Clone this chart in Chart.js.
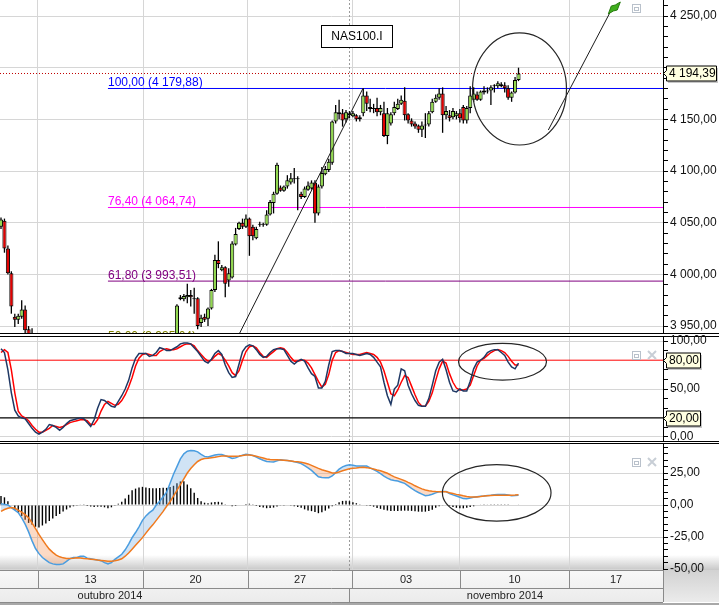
<!DOCTYPE html>
<html>
<head>
<meta charset="utf-8">
<script src="https://cdn.jsdelivr.net/npm/chart.js@4.4.1/dist/chart.umd.min.js"></script>
<style>
  html, body { margin: 0; padding: 0; background: #fff; }
  #wrap { position: relative; width: 719px; height: 605px; overflow: hidden; background: #fff; }
  #wrap canvas { position: absolute; left: 0; }
  .sep { position: absolute; left: 0; width: 719px; height: 1px; background: #000; }
</style>
</head>
<body>
<div id="wrap">
  <div class="sep" style="top:333px"></div>
  <div class="sep" style="top:336px"></div>
  <div class="sep" style="top:441px"></div>
  <div class="sep" style="top:443px"></div>
  <div style="position:absolute;left:663px;top:570px;width:56px;height:32px;background:linear-gradient(#d2d2d2,#ebebeb)"></div>
  <div style="position:absolute;left:0;top:603px;width:719px;height:2px;background:#a8a8a8"></div>
  <canvas id="priceChart" width="719" height="345" style="top:0"></canvas>
  <canvas id="stochChart" width="719" height="120" style="top:330px"></canvas>
  <canvas id="macdChart" width="719" height="169" style="top:436px"></canvas>
</div>
<script>
// NAS100.I, 4 hour bars. x = bar number, 0 = first bar on screen

const opens = [
  4046, 4052, 4025, 4001, 3959, 3956, 3959, 3966, 3947, 3930,
  3915, 3892, 3868, 3876, 3864, 3880, 3856, 3840, 3818, 3830,
  3814, 3792, 3802, 3796, 3810, 3786, 3764, 3750, 3786, 3815,
  3828, 3772, 3760, 3792, 3805, 3830, 3852, 3868, 3885, 3900,
  3910, 3912, 3915, 3920, 3910, 3918, 3926, 3930, 3928, 3932,
  3935, 3932, 3978, 3976, 3978, 3980, 3976, 3977, 3953, 3959,
  3957, 3967, 3985, 4014, 4004, 4007, 3994, 3997, 4029, 4044,
  4050, 4046, 4054, 4046, 4035, 4048, 4049, 4048, 4058, 4069,
  4078, 4084, 4081, 4085, 4089, 4092, 4093, 4078, 4075, 4082,
  4083, 4089, 4059, 4085, 4097, 4101, 4108, 4148, 4155, 4156,
  4150, 4156, 4153, 4154, 4150, 4156, 4173, 4162, 4160, 4161,
  4157, 4156, 4134, 4146, 4156, 4160, 4165, 4168, 4155, 4149,
  4146, 4144, 4140, 4144, 4145, 4157, 4167, 4171, 4175, 4154,
  4154, 4152, 4153, 4156, 4162, 4149, 4161, 4169, 4174, 4169,
  4176, 4177, 4178, 4182, 4182, 4182, 4183, 4180, 4171, 4176,
  4188
];
const highs = [
  4055, 4054, 4028, 4003, 3962, 3962, 3975, 3970, 3950, 3948,
  3920, 3898, 3882, 3884, 3888, 3884, 3866, 3846, 3836, 3840,
  3822, 3808, 3812, 3815, 3816, 3794, 3772, 3790, 3822, 3836,
  3832, 3790, 3798, 3810, 3836, 3858, 3872, 3890, 3905, 3915,
  3918, 3922, 3925, 3924, 3922, 3930, 3934, 3936, 3934, 3940,
  3941, 3971, 3980, 3981, 3991, 3985, 3987, 3978, 3961, 3962,
  3968, 3986, 4019, 4032, 4009, 4008, 4006, 4032, 4045, 4051,
  4054, 4058, 4055, 4048, 4046, 4051, 4050, 4062, 4072, 4080,
  4108, 4086, 4086, 4096, 4098, 4103, 4095, 4080, 4085, 4090,
  4091, 4091, 4087, 4104, 4105, 4112, 4149, 4164, 4169, 4160,
  4159, 4158, 4158, 4155, 4154, 4180, 4177, 4170, 4165, 4171,
  4164, 4167, 4161, 4157, 4167, 4170, 4173, 4181, 4156, 4151,
  4148, 4145, 4148, 4156, 4158, 4170, 4174, 4180, 4181, 4163,
  4159, 4161, 4158, 4160, 4164, 4163, 4182, 4181, 4177, 4178,
  4182, 4181, 4183, 4184, 4187, 4186, 4186, 4183, 4177, 4191,
  4200
];
const lows = [
  4044, 4021, 4000, 3962, 3949, 3952, 3957, 3935, 3920, 3905,
  3885, 3862, 3860, 3858, 3860, 3850, 3832, 3812, 3810, 3808,
  3786, 3784, 3790, 3792, 3780, 3758, 3742, 3746, 3780, 3806,
  3760, 3690, 3735, 3770, 3800, 3826, 3845, 3860, 3880, 3895,
  3900, 3905, 3908, 3905, 3906, 3914, 3920, 3922, 3920, 3925,
  3928, 3928, 3975, 3974, 3972, 3969, 3962, 3947, 3949, 3954,
  3950, 3966, 3983, 4006, 4003, 3978, 3988, 3996, 4028, 4043,
  4044, 4045, 4018, 4033, 4034, 4046, 4046, 4047, 4057, 4059,
  4077, 4080, 4080, 4083, 4087, 4088, 4062, 4073, 4074, 4081,
  4082, 4050, 4057, 4083, 4096, 4099, 4106, 4146, 4150, 4143,
  4147, 4151, 4152, 4148, 4148, 4153, 4158, 4157, 4156, 4153,
  4154, 4133, 4126, 4144, 4154, 4159, 4164, 4149, 4146, 4143,
  4141, 4137, 4133, 4132, 4143, 4156, 4166, 4169, 4137, 4150,
  4148, 4150, 4150, 4147, 4146, 4146, 4156, 4167, 4168, 4168,
  4174, 4175, 4164, 4176, 4180, 4181, 4176, 4169, 4167, 4175,
  4187
];
const closes = [
  4053, 4025, 4001, 3969, 3956, 3960, 3966, 3946, 3930, 3915,
  3892, 3868, 3876, 3864, 3880, 3856, 3840, 3818, 3830, 3814,
  3792, 3802, 3796, 3810, 3786, 3764, 3750, 3786, 3815, 3828,
  3772, 3760, 3792, 3805, 3830, 3852, 3868, 3885, 3900, 3910,
  3912, 3915, 3920, 3910, 3918, 3926, 3930, 3928, 3932, 3935,
  3932, 3970, 3976, 3979, 3980, 3978, 3977, 3950, 3958, 3956,
  3967, 3985, 4014, 4010, 4007, 3991, 4001, 4030, 4039, 4050,
  4046, 4054, 4037, 4037, 4044, 4049, 4048, 4058, 4070, 4078,
  4106, 4081, 4085, 4091, 4093, 4093, 4092, 4075, 4083, 4086,
  4089, 4059, 4085, 4098, 4102, 4109, 4148, 4157, 4157, 4149,
  4157, 4154, 4156, 4150, 4152, 4173, 4165, 4160, 4161, 4157,
  4161, 4134, 4156, 4155, 4162, 4165, 4169, 4154, 4149, 4145,
  4143, 4140, 4144, 4145, 4156, 4167, 4171, 4175, 4154, 4158,
  4151, 4158, 4156, 4151, 4149, 4161, 4173, 4175, 4169, 4177,
  4178, 4178, 4181, 4183, 4185, 4184, 4180, 4171, 4176, 4188,
  4194.39
];

// stochastic %K / %D
const stochK = [
  92, 88, 70, 46, 28, 22, 20, 19, 14, 9,
  5, 3, 5, 8, 13, 12, 10, 7, 10, 14,
  17, 18, 19, 20, 19, 15, 11, 18, 30, 39,
  38, 35, 32, 31, 37, 43, 50, 59, 72, 82,
  87, 87, 87, 84, 85, 88, 93, 92, 90, 90,
  92, 94, 97, 98, 98, 97, 93, 89, 84, 79,
  77, 81, 87, 90, 86, 75, 67, 62, 63, 76,
  89, 94, 96, 95, 91, 86, 83, 84, 88, 91,
  92, 92, 91, 85, 79, 76, 79, 81, 79, 72,
  66, 63, 51, 51, 58, 75, 89, 90, 90, 89,
  87, 87, 87, 86, 85, 86, 87, 86, 83, 78,
  73, 57, 43, 34, 50, 54, 71, 69, 54, 45,
  38, 33, 32, 32, 40, 54, 69, 78, 81, 70,
  57, 48, 47, 50, 48, 48, 58, 71, 78, 80,
  83, 88, 90, 91, 91, 88, 85, 78, 73, 71,
  77
];
const stochD = [
  88, 91, 88, 70, 46, 27, 22, 20, 17, 12,
  8, 5, 5, 7, 9, 12, 11, 10, 11, 13,
  15, 16, 17, 18, 18, 17, 13, 13, 18, 27,
  34, 37, 35, 33, 34, 38, 44, 52, 62, 74,
  82, 86, 87, 86, 85, 85, 89, 91, 92, 91,
  91, 92, 94, 96, 97, 97, 95, 90, 86, 82,
  79, 80, 84, 87, 85, 80, 74, 67, 64, 69,
  80, 89, 94, 95, 93, 88, 84, 83, 86, 89,
  92, 93, 92, 88, 83, 79, 79, 80, 80, 77,
  72, 65, 58, 52, 55, 65, 80, 88, 90, 89,
  88, 87, 86, 86, 86, 87, 88, 87, 86, 83,
  78, 69, 57, 45, 43, 49, 57, 64, 62, 53,
  44, 36, 32, 32, 37, 46, 59, 71, 79, 77,
  66, 57, 51, 49, 49, 50, 54, 64, 74, 80,
  82, 85, 88, 90, 91, 90, 88, 84, 79, 75,
  75
];

// MACD, signal and histogram
const macdLine = [
  1, 0.5, 0, -2, -4, -6, -10, -15, -21, -28,
  -34, -38, -41, -43, -45, -46, -46.5, -46.5, -46, -44,
  -42, -41, -41, -40, -40, -41.5, -42, -42.5, -43, -43.5,
  -45, -46, -45, -42.5, -40.5, -38.5, -35, -30.5, -25.5, -21.5,
  -17, -12, -8.5, -6, -4, 0, 3, 6.5, 10, 17,
  24, 30, 36, 40, 42, 42.6, 42.3, 41.5, 39.5, 38,
  37.5, 38.3, 39, 39.5, 39.4, 38.5, 37.5, 36.3, 36.8, 38,
  38.8, 39.6, 39.3, 38.7, 37.5, 36.1, 35, 34, 33.7, 33.6,
  34.5, 35.3, 35, 34.7, 34.3, 33.8, 33.2, 32.3, 30.7, 29,
  27, 24.5, 22, 21.5, 21.3, 21.3, 22.7, 25.3, 28, 29.8,
  30.8, 31.4, 31, 30.5, 30.4, 30.4, 30.4, 29, 27.7, 26.3,
  24.5, 22.6, 21, 19.7, 19.1, 18.7, 17.8, 16.9, 15, 13,
  11.3, 9.8, 8.5, 7.2, 7.7, 8.4, 9.5, 10.4, 10.6, 10.5,
  9, 7.9, 7, 6, 5, 4.8, 5.4, 6, 6.5, 6.9,
  7.1, 7.4, 7.6, 8, 8.3, 8.3, 8.3, 7.8, 7.2, 7.4,
  7.7
];
const signalLine = [
  -5, -3.5, -2.6, -2, -2.5, -4, -5.5, -7.5, -10, -14,
  -18.5, -23, -27, -31, -34.5, -37, -39.2, -40.5, -41.3, -41.7,
  -41.8, -41.6, -41.3, -41.5, -41.8, -42, -42.3, -42.6, -43, -43.3,
  -43.6, -43.9, -43.9, -43.6, -43, -42, -40, -37.5, -34.5, -31.5,
  -28.5, -25.5, -22, -18.5, -15.5, -12, -8.5, -5, -1, 2.5,
  7, 11.5, 16, 20.5, 25, 28.5, 31.5, 34, 35.5, 36.3,
  36.6, 37, 37.3, 37.8, 38.2, 38.2, 38.1, 38, 38, 38.2,
  38.6, 39.1, 39, 38.7, 38.1, 37.4, 36.7, 36, 35.6, 35.3,
  35.3, 35.2, 35, 34.8, 34.4, 34, 33.7, 33.4, 32.8, 32.1,
  31, 29.8, 28.6, 27.6, 26.8, 26, 25, 25, 25.8, 26.7,
  27.5, 28.3, 28.8, 29, 29.3, 29.4, 29.2, 28.8, 28.2, 27.4,
  26.7, 25.8, 24.8, 23.3, 22, 21, 20, 19, 17.7, 16.5,
  15, 13.8, 12.6, 11.7, 11.2, 10.8, 10.5, 10.3, 10.3, 10.3,
  9.6, 9, 8.3, 7.8, 7.2, 6.7, 6.3, 6.2, 6.3, 6.6,
  7, 7.3, 7.5, 7.6, 7.7, 7.7, 7.7, 7.7, 7.7, 7.8,
  8
];
const macdHist = [
  7, 6, 3, 0, -4, -6, -8.5, -11.5, -14, -15.5,
  -17, -17.5, -16, -14.5, -12.5, -10.5, -8.5, -7, -5, -3.5,
  -2, -1, -0.5, 0.3, 0.5, -0.8, -1.2, -1.5, -1.3, -1.4,
  -1.8, -2.5, -1.8, -0.5, 1, 2.6, 5, 8, 11.6, 12.8,
  13.6, 14.2, 13.6, 13.2, 13, 13, 13.2, 13.4, 13.4, 14,
  15, 17, 18.4, 18.6, 16, 13, 9.5, 5.5, 3, 1.8,
  1.3, 2, 2.4, 2.5, 2, 0.6, -0.3, -1, -0.8, -0.3,
  0.4, 0.8, 1, 0.6, -0.8, -1.6, -2, -2.5, -2.4, -2,
  -1.2, -0.5, -0.2, 0, -0.5, -1, -1.6, -2.2, -3.4, -4.3,
  -4.8, -5.4, -6.4, -5.6, -4.4, -2.8, -1, 0.8, 2.2, 3.2,
  3.3, 3, 2.1, 1.4, 0.6, 0, -0.5, -0.8, -1.3, -2.3,
  -3, -3.8, -4.3, -4.6, -4.6, -4.6, -4.5, -4.4, -4.5, -4.6,
  -4.9, -5.2, -5.2, -5.2, -4.6, -3.8, -2.2, -1, -0.3, 0,
  -0.8, -1.5, -2.2, -2.6, -2.6, -2.2, -1.5, -1, -0.3, 0.3,
  0.5, 0.5, 0.6, 0.6, 0.5, 0.5, 0.6, 0.5, 0.4, 0.4,
  0.3
];

// time axis (in bar numbers)
const weekTicks = [10.72, 41.16, 71.59, 101.74, 133.04, 164.64];
const weekLabels = ['13', '20', '27', '03', '10', '17'];
const monthBreak = 101.01;
const monthCenters = [31.59, 146.09];
const monthLabels = ['outubro 2014', 'novembro 2014'];

// drawings on the price panel
const symbol = 'NAS100.I';
const symbolAt = [103.19, 4230.7];
const lastPrice = 4194.39;
const fibStart = 31;
const fibLevels = [4179.88, 4064.74, 3993.51, 3935.04];
const fibNames = ['100,00', '76,40', '61,80', '50,00'];
const fibColors = ['#0000ff', '#ff00ff', '#800080', '#808000'];
const trendLine = [[31, 3690.2], [104.9, 4179.88]];
const arrowLine = [[158.64, 4139.7], [176.6, 4253.9]];
const priceCircle = { x: 150.29, y: 4179.4, rx: 13.62, ry: 54.2 };
const stochCircle = { x: 145.36, y: 78.4, rx: 12.75, ry: 19.1 };
const macdCircle = { x: 143.68, y: 9.5, rx: 15.74, ry: 22.1 };
const stochLevels = [80, 20];

// visible ranges
const X_MIN = -0.29, X_MAX = 191.88;
const PRICE_MIN = 3943.3, PRICE_MAX = 4265.5;
const STOCH_MIN = -4.17, STOCH_MAX = 104.17;
const MACD_MIN = -50.78, MACD_MAX = 47.66;

const FONT = '"Liberation Sans", Arial, sans-serif';
const BULL = '#92d850';
const BEAR = '#e20000';
const GRID = '#d6d6d6';

Chart.defaults.font.family = FONT;
Chart.defaults.font.size = 12;
Chart.defaults.color = '#000';

const bars = opens.map((_, i) => i);
const toPts = arr => arr.map(p => ({ x: p[0], y: p[1] }));
const hLine = v => [{ x: X_MIN, y: v }, { x: X_MAX, y: v }];
const vLine = (v, lo, hi) => [{ x: v, y: lo }, { x: v, y: hi }];

function fmt(v) {
  const parts = Math.abs(v).toFixed(2).split('.');
  const whole = parts[0].replace(/\B(?=(\d{3})+(?!\d))/g, ' ');
  return (v < 0 ? '-' : '') + whole + ',' + parts[1];
}

function xAxis(bottomSpace) {
  return {
    type: 'linear', min: X_MIN, max: X_MAX, offset: false,
    ticks: { display: false },
    grid: { color: GRID, drawTicks: false, offset: false },
    border: { display: false },
    afterBuildTicks: s => { s.ticks = weekTicks.map(v => ({ value: v })); },
    afterFit: s => { s.height = bottomSpace; s.paddingLeft = 0; s.paddingRight = 0; }
  };
}

function yAxis(min, max, step, major, labelled) {
  return {
    type: 'linear', position: 'right', min, max,
    afterBuildTicks: s => {
      const t = [];
      for (let v = Math.ceil(min / step) * step; v <= max; v += step) t.push({ value: Math.round(v * 100) / 100 });
      s.ticks = t;
    },
    ticks: { autoSkip: false, padding: 2, color: '#111', font: { size: 12 }, callback: v => labelled(v) ? fmt(v) : '' },
    grid: { color: c => major(c.tick.value) ? GRID : 'rgba(0,0,0,0)', tickColor: '#000', tickLength: 5 },
    border: { display: true, color: '#000' },
    afterFit: s => { s.width = 56; s.paddingTop = 0; s.paddingBottom = 0; }
  };
}

function baseOptions(padding) {
  return {
    responsive: false, animation: false, devicePixelRatio: 1, events: [],
    layout: { padding },
    plugins: { legend: { display: false }, tooltip: { enabled: false } },
    elements: { point: { radius: 0 }, line: { tension: 0 } }
  };
}

function drawEllipse(ctx, xs, ys, e) {
  const cx = xs.getPixelForValue(e.x), cy = ys.getPixelForValue(e.y);
  const rx = Math.abs(xs.getPixelForValue(e.x + e.rx) - cx);
  const ry = Math.abs(ys.getPixelForValue(e.y + e.ry) - cy);
  ctx.beginPath();
  ctx.ellipse(cx, cy, rx, ry, 0, 0, Math.PI * 2);
  ctx.strokeStyle = '#262626';
  ctx.lineWidth = 1.2;
  ctx.stroke();
}

// little window buttons in the panel corners
function drawButtons(ctx, x0, y0, withClose) {
  ctx.save();
  ctx.strokeStyle = '#b9c1cb';
  ctx.lineWidth = 1;
  ctx.strokeRect(x0 + 0.5, y0 + 0.5, 8, 8);
  ctx.strokeRect(x0 + 2.5, y0 + 3.5, 4, 3);
  if (withClose) {
    ctx.lineWidth = 2;
    ctx.strokeStyle = '#c8ced6';
    ctx.beginPath();
    ctx.moveTo(x0 + 16, y0); ctx.lineTo(x0 + 24, y0 + 8);
    ctx.moveTo(x0 + 24, y0); ctx.lineTo(x0 + 16, y0 + 8);
    ctx.stroke();
  }
  ctx.restore();
}

// yellow value tag on the right axis
function drawTag(ctx, left, value, ys, w, text) {
  const py = Math.round(ys.getPixelForValue(value)) + 0.5;
  ctx.save();
  ctx.fillStyle = 'rgba(0,0,0,0.22)';
  ctx.fillRect(left + 5, py - 5.5, w, 15);
  ctx.beginPath();
  ctx.moveTo(left + 0.5, py);
  ctx.lineTo(left + 3.5, py - 3);
  ctx.lineTo(left + 3.5, py - 7.5);
  ctx.lineTo(left + 3.5 + w, py - 7.5);
  ctx.lineTo(left + 3.5 + w, py + 7.5);
  ctx.lineTo(left + 3.5, py + 7.5);
  ctx.lineTo(left + 3.5, py + 3);
  ctx.closePath();
  ctx.fillStyle = '#ffffe1';
  ctx.fill();
  ctx.strokeStyle = '#000';
  ctx.lineWidth = 1;
  ctx.stroke();
  ctx.fillStyle = '#000';
  ctx.font = '12px ' + FONT;
  ctx.textAlign = 'left';
  ctx.textBaseline = 'middle';
  ctx.fillText(text, left + 6, py + 0.5);
  ctx.restore();
}

const priceDecor = {
  id: 'priceDecor',
  afterDatasetsDraw(chart) {
    const { ctx, chartArea: a, scales: { x, y } } = chart;
    ctx.save();
    ctx.beginPath();
    ctx.rect(a.left, a.top, a.right - a.left, a.bottom - a.top);
    ctx.clip();

    ctx.font = '12px ' + FONT;
    ctx.textAlign = 'left';
    ctx.textBaseline = 'alphabetic';
    fibLevels.forEach((lv, k) => {
      ctx.fillStyle = fibColors[k];
      ctx.fillText(fibNames[k] + ' (' + fmt(lv) + ')', x.getPixelForValue(fibStart), y.getPixelForValue(lv) - 2);
    });

    drawEllipse(ctx, x, y, priceCircle);

    // symbol box
    const sx = Math.round(x.getPixelForValue(symbolAt[0])), sy = Math.round(y.getPixelForValue(symbolAt[1]));
    ctx.fillStyle = '#fff';
    ctx.fillRect(sx - 35.5, sy - 10.5, 71, 22);
    ctx.strokeStyle = '#000';
    ctx.lineWidth = 1;
    ctx.strokeRect(sx - 35.5, sy - 10.5, 71, 22);
    ctx.fillStyle = '#000';
    ctx.textAlign = 'center';
    ctx.textBaseline = 'middle';
    ctx.fillText(symbol, sx, sy + 1);

    // flag at the end of the arrow line
    const end = arrowLine[arrowLine.length - 1];
    const fx = x.getPixelForValue(end[0]), fy = y.getPixelForValue(end[1]);
    ctx.beginPath();
    ctx.moveTo(fx - 2, fy + 2);
    ctx.lineTo(fx + 1, fy - 6);
    ctx.lineTo(fx + 5, fy - 7);
    ctx.lineTo(fx + 10, fy - 10);
    ctx.lineTo(fx + 7, fy - 2);
    ctx.lineTo(fx + 3, fy - 1);
    ctx.closePath();
    ctx.fillStyle = '#3fae1c';
    ctx.fill();
    ctx.strokeStyle = '#267a10';
    ctx.stroke();

    drawButtons(ctx, a.right - 31, a.top + 4, false);
    ctx.restore();
  },
  afterDraw(chart) {
    const { ctx, scales: { y } } = chart;
    drawTag(ctx, y.left, lastPrice, y, 50, fmt(lastPrice));
  }
};

const stochDecor = {
  id: 'stochDecor',
  afterDatasetsDraw(chart) {
    const { ctx, chartArea: a, scales: { x, y } } = chart;
    ctx.save();
    drawEllipse(ctx, x, y, stochCircle);
    drawButtons(ctx, a.right - 31, a.top + 14, true);
    ctx.restore();
  },
  afterDraw(chart) {
    const { ctx, scales: { y } } = chart;
    stochLevels.forEach(v => drawTag(ctx, y.left, v, y, 34, fmt(v)));
  }
};

const macdDecor = {
  id: 'macdDecor',
  beforeDraw(chart) {
    const { ctx, chartArea: a } = chart;
    const g = ctx.createLinearGradient(0, a.bottom - 15, 0, a.bottom);
    g.addColorStop(0, 'rgba(190,190,190,0)');
    g.addColorStop(1, 'rgba(190,190,190,0.85)');
    ctx.save();
    ctx.fillStyle = g;
    ctx.fillRect(0, a.bottom - 15, chart.width, 15);
    ctx.restore();
  },
  afterDatasetsDraw(chart) {
    const { ctx, chartArea: a, scales: { x, y } } = chart;
    ctx.save();
    drawEllipse(ctx, x, y, macdCircle);
    drawButtons(ctx, a.right - 31, a.top + 14, true);
    ctx.restore();
  },
  afterDraw(chart) {
    // date axis: weeks on the first row, months on the second
    const { ctx, chartArea: a, scales: { x } } = chart;
    const top = a.bottom, mid = top + 18, bot = top + 32;
    ctx.save();
    const g = ctx.createLinearGradient(0, top, 0, bot);
    g.addColorStop(0, '#f8f8f8');
    g.addColorStop(1, '#ebebeb');
    ctx.fillStyle = g;
    ctx.fillRect(0, top, a.right, bot - top);
    ctx.strokeStyle = '#8a8a8a';
    ctx.lineWidth = 1;
    ctx.beginPath();
    [top, mid, bot].forEach(yy => { ctx.moveTo(0, yy + 0.5); ctx.lineTo(a.right, yy + 0.5); });
    weekTicks.forEach(v => {
      const px = Math.round(x.getPixelForValue(v)) + 0.5;
      ctx.moveTo(px, top); ctx.lineTo(px, mid);
    });
    const mb = Math.round(x.getPixelForValue(monthBreak)) + 0.5;
    ctx.moveTo(mb, mid); ctx.lineTo(mb, bot);
    ctx.moveTo(a.right + 0.5, top); ctx.lineTo(a.right + 0.5, bot);
    ctx.stroke();

    ctx.fillStyle = '#1e1e1e';
    ctx.font = '11px ' + FONT;
    ctx.textAlign = 'center';
    ctx.textBaseline = 'middle';
    weekTicks.forEach((v, k) => {
      const l = x.getPixelForValue(v);
      const r = k + 1 < weekTicks.length ? x.getPixelForValue(weekTicks[k + 1]) : a.right;
      ctx.fillText(weekLabels[k], (l + r) / 2, top + 9.5);
    });
    monthLabels.forEach((m, k) => ctx.fillText(m, x.getPixelForValue(monthCenters[k]), mid + 7.5));
    ctx.restore();
  }
};

// price panel
new Chart(document.getElementById('priceChart'), {
  type: 'bar',
  data: {
    datasets: [
      { type: 'line', data: toPts(trendLine), borderColor: '#1a1a1a', borderWidth: 1, order: -1, clip: 0 },
      { type: 'line', data: toPts(arrowLine), borderColor: '#1a1a1a', borderWidth: 1, order: -1, clip: 0 },
      {
        data: bars.map(i => ({ x: i, y: [opens[i], closes[i]] })),
        backgroundColor: bars.map(i => closes[i] >= opens[i] ? BULL : BEAR),
        borderColor: '#000', borderWidth: 1, borderSkipped: false,
        grouped: false, categoryPercentage: 1, barPercentage: 1.2, order: 0, clip: 0
      },
      {
        data: bars.map(i => ({ x: i, y: [lows[i], highs[i]] })),
        backgroundColor: '#000', borderWidth: 0,
        grouped: false, maxBarThickness: 1.3, order: 1, clip: 0
      },
      ...fibLevels.map((lv, k) => ({
        type: 'line', data: [{ x: fibStart, y: lv }, { x: X_MAX, y: lv }],
        borderColor: fibColors[k], borderWidth: 1, order: 2, clip: 0
      })),
      { type: 'line', data: hLine(lastPrice), borderColor: '#c00000', borderWidth: 1, borderDash: [1, 2], order: 2, clip: 0 },
      { type: 'line', data: vLine(monthBreak, PRICE_MIN, PRICE_MAX), borderColor: '#9a9a9a', borderWidth: 1, borderDash: [2, 2], order: 3, clip: 0 }
    ]
  },
  options: Object.assign(baseOptions({ top: 0, bottom: 12, left: 0, right: 0 }), {
    scales: {
      x: xAxis(0),
      y: yAxis(PRICE_MIN, PRICE_MAX, 10, v => v % 50 === 0, v => v % 50 === 0 && Math.abs(v - lastPrice) > 15)
    }
  }),
  plugins: [priceDecor]
});

// stochastic panel
new Chart(document.getElementById('stochChart'), {
  type: 'line',
  data: {
    datasets: [
      { data: bars.map(i => ({ x: i, y: stochK[i] })), borderColor: '#1f3864', borderWidth: 1.5, order: 0, clip: 0 },
      { data: bars.map(i => ({ x: i, y: stochD[i] })), borderColor: '#ff0000', borderWidth: 1.5, order: 1, clip: 0 },
      { data: hLine(stochLevels[0]), borderColor: '#ff0000', borderWidth: 1, order: 2, clip: 0 },
      { data: hLine(stochLevels[1]), borderColor: '#000', borderWidth: 1.2, order: 2, clip: 0 },
      { data: vLine(monthBreak, STOCH_MIN, STOCH_MAX), borderColor: '#9a9a9a', borderWidth: 1, borderDash: [2, 2], order: 3, clip: 0 }
    ]
  },
  options: Object.assign(baseOptions({ top: 7, bottom: 9, left: 0, right: 0 }), {
    scales: {
      x: xAxis(0),
      y: yAxis(STOCH_MIN, STOCH_MAX, 10, v => v % 50 === 0, v => v % 50 === 0)
    }
  }),
  plugins: [stochDecor]
});

// MACD panel with the date axis underneath
new Chart(document.getElementById('macdChart'), {
  type: 'bar',
  data: {
    datasets: [
      { data: bars.map(i => ({ x: i, y: macdHist[i] })), backgroundColor: '#000', maxBarThickness: 1.4, order: 3, clip: 0 },
      {
        type: 'line', data: bars.map(i => ({ x: i, y: macdLine[i] })),
        borderColor: '#4a9de0', borderWidth: 1.5, order: 2, clip: 0,
        fill: { target: 2, above: 'rgba(120,175,225,0.35)', below: 'rgba(245,150,90,0.35)' }
      },
      { type: 'line', data: bars.map(i => ({ x: i, y: signalLine[i] })), borderColor: '#f07a1e', borderWidth: 1.5, order: 1, clip: 0 },
      { type: 'line', data: vLine(monthBreak, MACD_MIN, MACD_MAX), borderColor: '#9a9a9a', borderWidth: 1, borderDash: [2, 2], order: 4, clip: 0 }
    ]
  },
  options: Object.assign(baseOptions({ top: 8, bottom: 0, left: 0, right: 0 }), {
    scales: {
      x: xAxis(35),
      y: yAxis(MACD_MIN, MACD_MAX, 5, v => v % 25 === 0, v => v % 25 === 0)
    }
  }),
  plugins: [macdDecor]
});
</script>
</body>
</html>
